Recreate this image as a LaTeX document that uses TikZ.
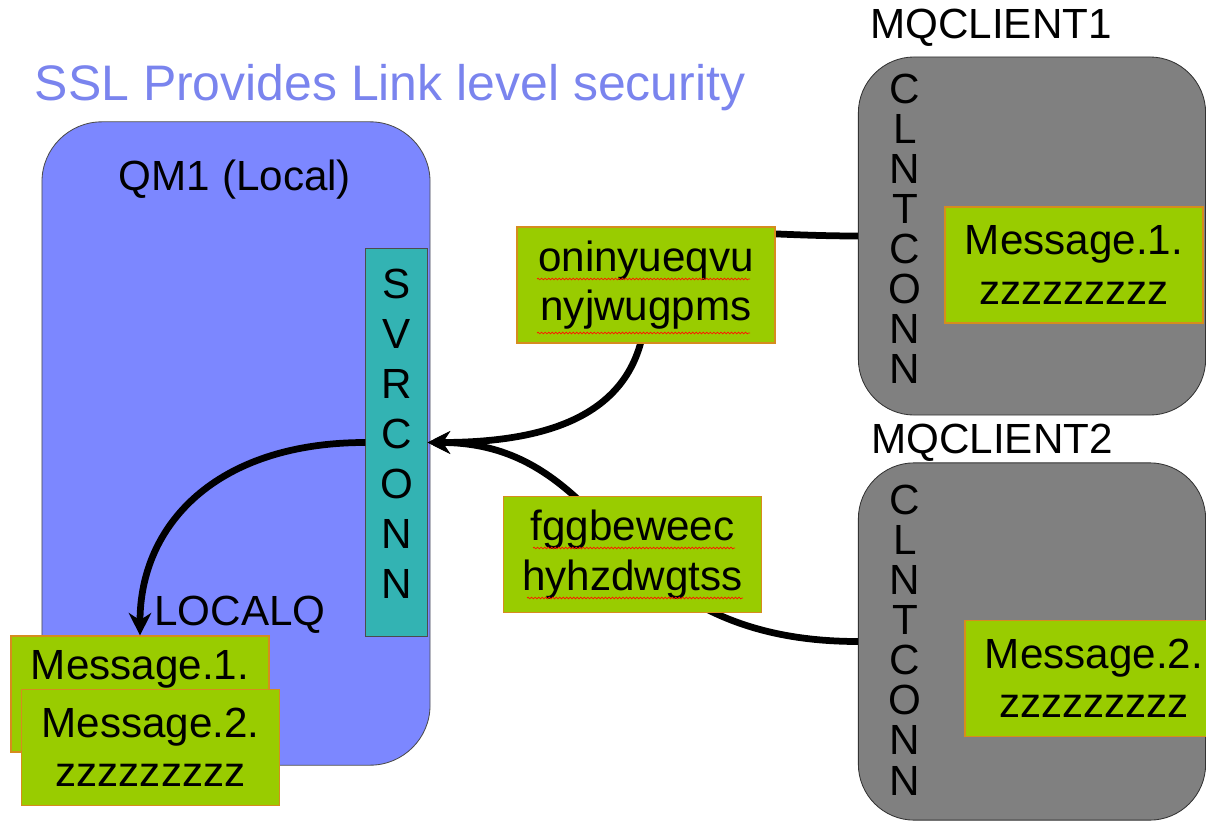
\documentclass[tikz,border=0pt]{standalone}
\usepackage{fontspec}
\setmainfont{Liberation Sans}
\usepackage{xcolor}
\usetikzlibrary{arrows.meta,decorations.pathmorphing}

\definecolor{qmblue}{RGB}{124,135,255}
\definecolor{titleblue}{RGB}{122,132,238}
\definecolor{chteal}{RGB}{51,179,179}
\definecolor{clgray}{RGB}{128,128,128}
\definecolor{msggreen}{RGB}{153,204,0}
\definecolor{msgedge}{RGB}{214,140,30}

\tikzset{
  big/.style={font=\fontsize{30}{36}\selectfont},
  msgbox/.style={draw=msgedge, fill=msggreen, line width=0.8pt,
    minimum width=6.45cm, minimum height=2.9cm, align=center,
    font=\fontsize{30}{35}\selectfont, inner sep=0pt},
  clbox/.style={draw=black!80, fill=clgray, line width=0.6pt,
    rounded corners=1.4cm, minimum width=8.68cm, minimum height=8.95cm},
  letters/.style={align=center, font=\fontsize{30}{28.5}\selectfont},
  flow/.style={line width=4.8pt, -{Stealth[length=16pt,width=16pt]}},
  spell/.style={red!85!orange, line width=0.5pt, decorate,
    decoration={snake, amplitude=0.6pt, segment length=2.5pt}},
}

\begin{document}
\begin{tikzpicture}[x=0.025cm, y=-0.025cm]
\useasboundingbox (0,0) rectangle (1206,822);

\node[titleblue, font=\fontsize{35.5}{40}\selectfont] (title) at (390,88) {SSL Provides Link level security};

% queue manager side
\node[draw=black!70, fill=qmblue, line width=0.6pt, rounded corners=1.5cm,
  minimum width=9.7cm, minimum height=16.08cm] (qm) at (236,443.5) {};
\node[big] (qmname) at (235,180) {QM1 (Local)};
\node[draw=black!70, fill=chteal, line width=0.6pt, minimum width=1.53cm,
  minimum height=9.68cm] (svr) at (396.5,442.5) {};
\node[align=center, font=\fontsize{30}{35.6}\selectfont] (svrtxt) at (396.5,434) {S\\V\\R\\C\\O\\N\\N};
\node[big] (localq) at (240,615) {LOCALQ};
\node[msgbox] (qmsgA) at (140,694) {Message.1.\\[-4pt]\strut};
\node[msgbox] (qmsgB) at (150.5,747.5) {Message.2.\\zzzzzzzzz};

% clients
\node[big] (clnameA) at (991,28) {MQCLIENT1};
\node[clbox] (clA) at (1032,236) {};
\node[letters] (clnA) at (905,229) {C\\L\\N\\T\\C\\O\\N\\N};
\node[msgbox] (cmsgA) at (1074,265) {Message.1.\\zzzzzzzzz};

\node[big] (clnameB) at (992,443) {MQCLIENT2};
\node[clbox, minimum height=8.93cm] (clB) at (1032,641.5) {};
\node[letters] (clnB) at (905,640) {C\\L\\N\\T\\C\\O\\N\\N};
\node[msgbox] (cmsgB) at (1094,678.5) {Message.2.\\zzzzzzzzz};

% flows over the channel
\draw[flow] (clA.west) .. controls +(-150,0) and +(0,-90) .. (646,300)
  .. controls +(0,110) and +(130,0) .. (svr.east);
\draw[flow] (clB.west) .. controls +(-110,0) and +(50,50) .. (632,554)
  .. controls +(-50,-50) and +(110,0) .. (svr.east);
\draw[flow] (svr.west) .. controls +(-150,0) and +(0,-110) .. (qmsgA.north);

% encrypted text on the wire
\node[msgbox] (cipherA) at (646,285) {oninyueqvu\\nyjwugpms};
\node[msgbox] (cipherB) at (632.5,554.5) {fggbeweec\\hyhzdwgtss};
\draw[spell] (537,279) -- (750,279);
\draw[spell] (537,333) -- (750,333);
\draw[spell] (533,548) -- (735,548);
\draw[spell] (527,598) -- (743,598);

\end{tikzpicture}
\end{document}
